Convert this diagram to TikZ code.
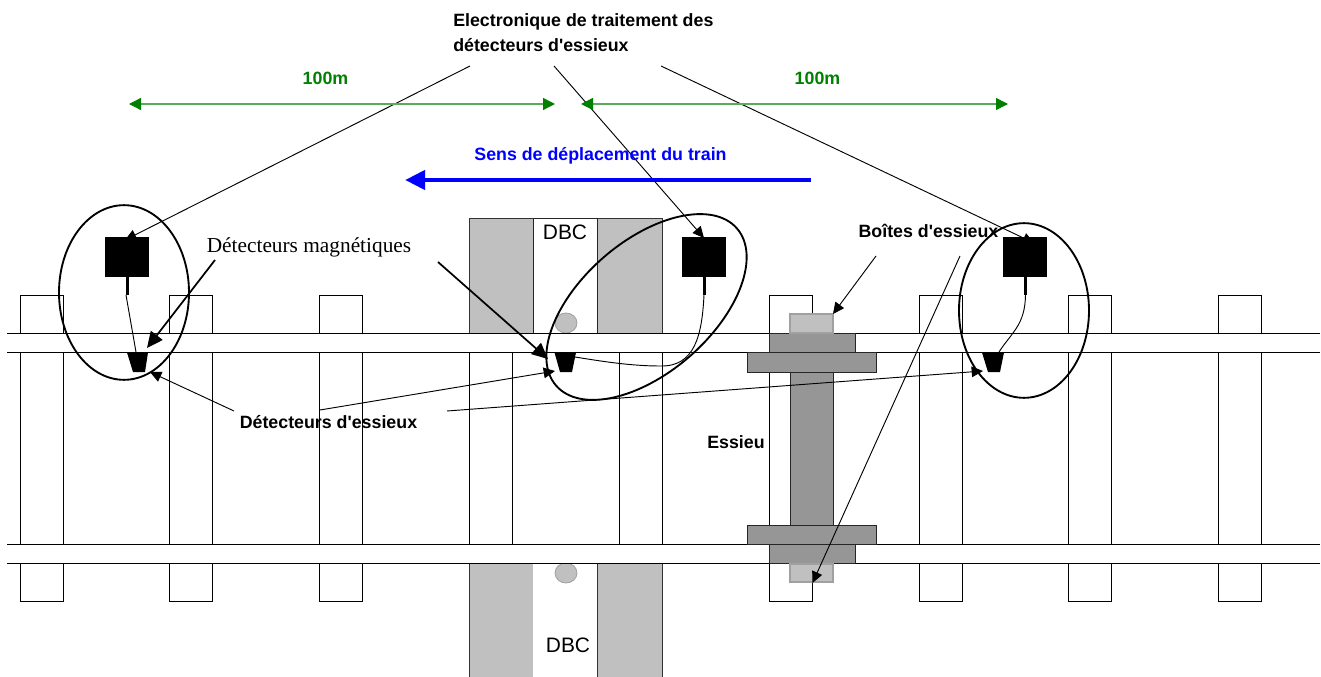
\documentclass[tikz,border=0pt]{standalone}
\usepackage{fontspec}
\newfontfamily\plainsans{Liberation Sans}
\newfontfamily\timesf{Liberation Serif}
\usetikzlibrary{arrows.meta,shapes.geometric}
\definecolor{dbcgray}{RGB}{192,192,192}
\definecolor{axlegray}{RGB}{150,150,150}
\definecolor{boxedge}{RGB}{160,160,160}
\definecolor{greenarrow}{RGB}{0,128,0}
\tikzset{
  sleeper/.style={draw=black,fill=white,line width=0.7pt},
  railline/.style={draw=black,line width=0.7pt},
  dbcblock/.style={draw=black!80,fill=dbcgray,line width=0.7pt},
  axlepart/.style={draw=black!85,fill=axlegray,line width=0.7pt},
  axlebox/.style={draw=boxedge,fill=dbcgray,line width=1.5pt},
  blob/.style={draw=boxedge,fill=dbcgray,line width=0.6pt},
  sensorunit/.style={fill=black,draw=black,line width=0.3pt},
  loop/.style={draw=black,ellipse,line width=1.4pt,inner sep=0pt,minimum width=#1},
  cable/.style={draw=black,line width=0.7pt},
  pointer/.style={draw=black,line width=0.7pt,-{Triangle[length=8.5pt,width=8pt]}},
  heavypointer/.style={draw=black,line width=1.3pt,-{Triangle[length=12pt,width=11pt]}},
  dimline/.style={draw=greenarrow!65,line width=1pt,{Triangle[length=9pt,width=9pt,color=greenarrow]}-{Triangle[length=9pt,width=9pt,color=greenarrow]}},
  boldlabel/.style={font=\plainsans\fontsize{13.35}{15}\selectfont\bfseries,inner sep=0pt,anchor=base},
  dbclabel/.style={font=\plainsans\fontsize{15.7}{18}\selectfont,inner sep=0pt,anchor=base},
}
\begin{document}
\begin{tikzpicture}[x=0.75pt,y=-0.75pt]
\useasboundingbox (0,0) rectangle (1321,677);
% sleepers
\foreach \sx in {20,169,319,469,619,769,919,1068,1218}
  \draw[sleeper] (\sx,295) rectangle (\sx+43,601);
% DBC blocks
\draw[dbcblock] (469,218) rectangle (533,333);
\draw[dbcblock] (597,218) rectangle (662,333);
\draw[draw=black!85,fill=white,line width=0.7pt] (533,218) rectangle (597,333);
\draw[dbcblock] (469,563) rectangle (533,677);
\draw[dbcblock] (597,563) rectangle (662,677);
\fill[white] (533.4,564) rectangle (596.6,677);
\draw[blob] (566,323) ellipse (11 and 10);
\draw[blob] (566,573) ellipse (11 and 10);
% rails
\fill[white] (7,333) rectangle (1320,352.5);
\fill[white] (7,544) rectangle (1320,563);
\draw[railline] (7,333) -- (1320,333);
\draw[railline] (7,352.5) -- (1320,352.5);
\draw[railline] (7,544) -- (1320,544);
\draw[railline] (7,563) -- (1320,563);
% axle
\draw[axlepart] (790,372) rectangle (833,525);
\draw[axlepart] (769,333) rectangle (855,352.5);
\draw[axlepart] (747,352.5) rectangle (876,372);
\draw[axlepart] (747,525) rectangle (876,544);
\draw[axlepart] (769,544) rectangle (855,563);
\draw[axlebox] (790,314.5) rectangle (833,333);
\draw[axlebox] (790,563.5) rectangle (833,582);
% coordinates
\coordinate (leftcable) at (126,295);
\coordinate (midcable) at (704,295);
\coordinate (rightcable) at (1025.5,295);
\coordinate (leftdet) at (136,352);
\coordinate (middet) at (575,357);
\coordinate (rightdet) at (999,352);
\coordinate (srcA) at (470,66);
\coordinate (srcB) at (554,66);
\coordinate (srcC) at (661,66);
\coordinate (tipA) at (125,240);
\coordinate (tipB) at (704,238);
\coordinate (tipC) at (1034,243);
\coordinate (magA) at (215,260);
\coordinate (magB) at (438,262);
\coordinate (magAtip) at (147,348);
\coordinate (magBtip) at (548,359);
\coordinate (essA) at (234,411);
\coordinate (essB) at (320,410);
\coordinate (essC) at (447,411);
\coordinate (essAtip) at (150,372);
\coordinate (essBtip) at (555,371);
\coordinate (essCtip) at (983,371);
\coordinate (boxA) at (876,256);
\coordinate (boxB) at (960,256);
\coordinate (boxAtip) at (833,314);
\coordinate (boxBtip) at (812.5,583);
\coordinate (dimAl) at (129,104);
\coordinate (dimAr) at (555,104);
\coordinate (dimBl) at (581,104);
\coordinate (dimBr) at (1008,104);
\coordinate (trainA) at (811,180);
\coordinate (trainB) at (405,180);
% cables
\draw[cable] (leftcable) -- (leftdet);
\draw[cable] (midcable) .. controls (702,335) and (695,367) .. (660,366) .. controls (630,366) and (600,361) .. (middet);
\draw[cable] (rightcable) .. controls (1025,325) and (1012,332) .. (rightdet);
% pointers to electronics, heads partly hidden by the boxes
\draw[pointer] (srcA) -- (tipA);
\draw[pointer] (srcB) -- (tipB);
\draw[pointer] (srcC) -- (tipC);
% sensor boxes
\foreach \nm/\bx in {unitL/105,unitM/682,unitR/1003}{
  \draw[sensorunit] (\bx,237) rectangle (\bx+43.5,276);
  \fill[black] (\bx+20.5,276) rectangle (\bx+23.5,295);
}
% detectors
\fill[black] (127,352.5) -- (148,352.5) -- (145,372) -- (133,372) -- cycle;
\fill[black] (554.5,352.5) -- (576,352.5) -- (572,372) -- (560,372) -- cycle;
\fill[black] (982,352.5) -- (1004,352.5) -- (1000,372) -- (988,372) -- cycle;
% loops
\node[loop=97.5pt,minimum height=131pt] (loopL) at (124,292.5) {};
\node[loop=97.5pt,minimum height=131pt] (loopR) at (1024,310.5) {};
\node[loop=179.7pt,minimum height=98.4pt,rotate=41] (loopM) at (646.5,307) {};
% green dimensions and train direction
\draw[dimline] (dimAl) -- (dimAr);
\draw[dimline] (dimBl) -- (dimBr);
\draw[draw=blue,line width=3.6pt,-{Triangle[length=15pt,width=14pt]}] (trainA) -- (trainB);
% labels
\node[boldlabel,anchor=base west] (elecA) at (453,26.5) {Electronique de traitement des};
\node[boldlabel,anchor=base west] (elecB) at (453,51.5) {détecteurs d'essieux};
\node[boldlabel,text=greenarrow] (hundredA) at (325.5,85) {100m};
\node[boldlabel,text=greenarrow] (hundredB) at (817.5,85) {100m};
\node[boldlabel,text=blue] (sens) at (600.5,161) {Sens de déplacement du train};
\node[dbclabel] (dbcTop) at (565,240) {DBC};
\node[dbclabel] (dbcBot) at (568,652) {DBC};
\node[inner sep=0pt,anchor=base,font=\timesf\fontsize{16}{18}\selectfont] (mag) at (309,252.5) {Détecteurs magnétiques};
\node[boldlabel] (boites) at (928.5,238) {Boîtes d'essieux};
\node[boldlabel] (ess) at (328.5,428.5) {Détecteurs d'essieux};
\node[boldlabel] (essieu) at (736,448) {Essieu};
% arrows
\draw[heavypointer] (magA) -- (magAtip);
\draw[heavypointer] (magB) -- (magBtip);
\draw[pointer] (essA) -- (essAtip);
\draw[pointer] (essB) -- (essBtip);
\draw[pointer] (essC) -- (essCtip);
\draw[pointer] (boxA) -- (boxAtip);
\draw[pointer] (boxB) -- (boxBtip);
\end{tikzpicture}
\end{document}
